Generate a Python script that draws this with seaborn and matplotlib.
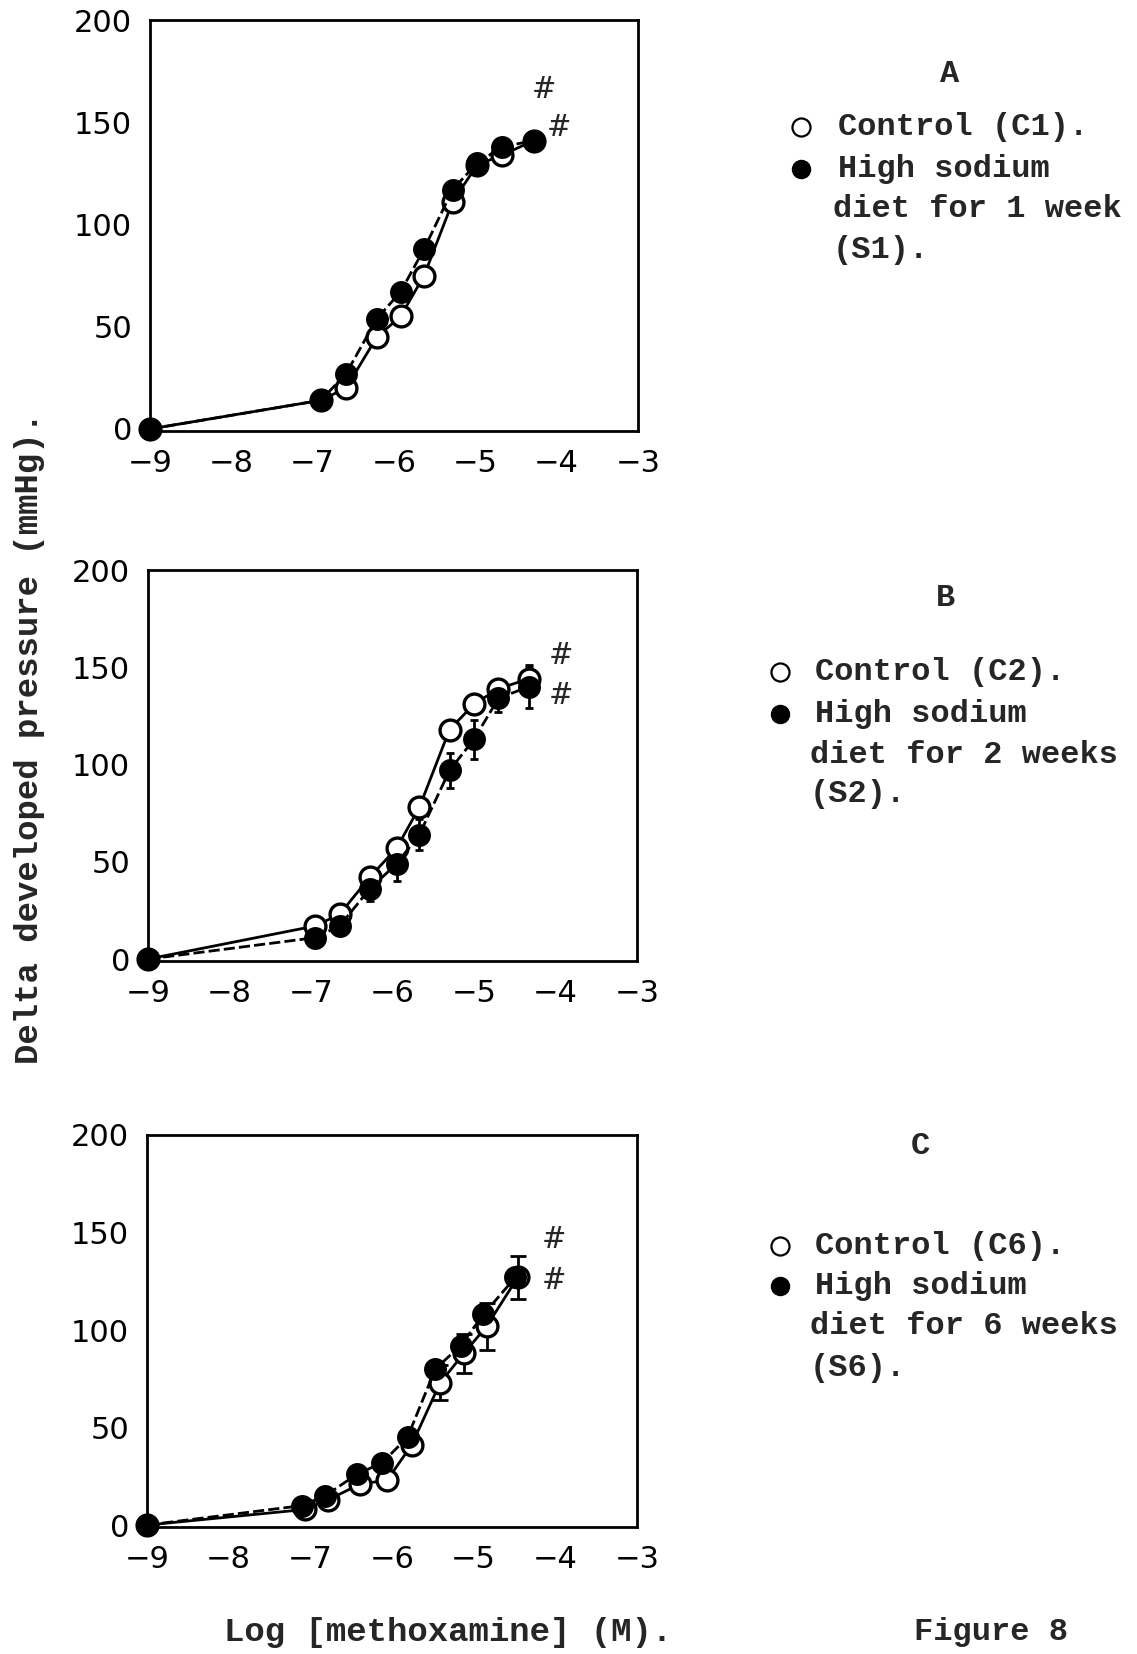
import numpy as np
import pandas as pd
import seaborn as sns
import matplotlib
matplotlib.use("Agg")
import matplotlib.pyplot as plt
from matplotlib.lines import Line2D

# ---------------- data ----------------
# Panel A
xA = [-9, -6.90, -6.59, -6.21, -5.92, -5.63, -5.28, -4.98, -4.67, -4.28]
ctrlA = [0, 14, 20, 45, 55, 75, 111, 129, 134, 141]
naA = [0, 14, 27, 54, 67, 88, 117, 130, 138, 141]
ctrlA_err = [0, 0, 0, 0, 0, 0, 0, 0, 0, 0]
naA_err = [0, 0, 0, 0, 0, 0, 0, 0, 0, 0]

# Panel B
xB = [-9, -6.95, -6.65, -6.28, -5.95, -5.67, -5.30, -5.00, -4.70, -4.33]
ctrlB = [0, 17, 23, 42, 57, 78, 118, 131, 139, 144]
naB = [0, 11, 17, 36, 49, 64, 97, 113, 134, 140]
ctrlB_err = [0, 0, 0, 3, 5, 0, 0, 0, 3, 6]
naB_err = [0, 0, 0, 6, 9, 8, 9, 10, 7, 11]

# Panel C
xC_ctrl = [-9, -7.06, -6.78, -6.39, -6.06, -5.76, -5.41, -5.12, -4.84, -4.46]
ctrlC = [0, 8, 13, 21, 23, 41, 73, 88, 102, 127]
ctrlC_err = [0, 0, 0, 0, 0, 0, 9, 10, 12, 11]
xC_na = [-9, -7.10, -6.82, -6.43, -6.12, -5.81, -5.47, -5.16, -4.88, -4.49]
naC = [0, 10, 15, 26, 32, 45, 80, 92, 108, 127]
naC_err = [0, 0, 0, 0, 0, 0, 0, 0, 0, 0]

xticks = [-9, -8, -7, -6, -5, -4, -3]
yticks = [0, 50, 100, 150, 200]

panel_letters = ["A", "B", "C"]
legend_ctrl = ["Control (C1).", "Control (C2).", "Control (C6)."]
legend_na = [["High sodium", "diet for 1 week", "(S1)."],
             ["High sodium", "diet for 2 weeks", "(S2)."],
             ["High sodium", "diet for 6 weeks", "(S6)."]]
hash_pos = [[(-4.16, 166), (-3.97, 147)],
            [(-3.93, 156), (-3.93, 135)],
            [(-4.02, 146), (-4.02, 125)]]

# ---------------- figure ----------------
sns.set_style("white")
plt.rcParams['font.family'] = ['DejaVu Sans']
W, H = 1137, 1654
fig = plt.figure(figsize=(W / 100, H / 100), dpi=100)


def fx(x):
    return x / W


def fy(y):
    return 1 - y / H


axes_px = [(150, 20, 638, 431), (148, 570, 637, 961), (147, 1135, 637, 1527)]
panels = [
    (xA, ctrlA, ctrlA_err, xA, naA, naA_err),
    (xB, ctrlB, ctrlB_err, xB, naB, naB_err),
    (xC_ctrl, ctrlC, ctrlC_err, xC_na, naC, naC_err),
]
caps = [3, 3, 6]
mono = dict(family="Liberation Mono", weight="bold")

for i, ((l, t, r, b), (xc, yc, ec, xn, yn, en)) in enumerate(zip(axes_px, panels)):
    ax = fig.add_axes([fx(l), fy(b), (r - l) / W, (b - t) / H])
    xc_a, yc_a, ec_a = map(np.asarray, (xc, yc, ec))
    xn_a, yn_a, en_a = map(np.asarray, (xn, yn, en))
    mc = ec_a > 0
    mn = en_a > 0
    if mc.any():
        ax.errorbar(xc_a[mc], yc_a[mc], yerr=ec_a[mc], fmt="none", ecolor="black",
                    elinewidth=2.0, capsize=caps[i], capthick=2.0, zorder=2)
    if mn.any():
        ax.errorbar(xn_a[mn], yn_a[mn], yerr=en_a[mn], fmt="none", ecolor="black",
                    elinewidth=2.0, capsize=caps[i], capthick=2.0, zorder=2)
    dfc = pd.DataFrame({"x": xc, "y": yc})
    dfn = pd.DataFrame({"x": xn, "y": yn})
    sns.lineplot(data=dfc, x="x", y="y", ax=ax, color="black", linewidth=2.0,
                 marker="o", markersize=15, markerfacecolor="white",
                 markeredgecolor="black", markeredgewidth=2.4, zorder=3,
                 clip_on=False)
    sns.lineplot(data=dfn, x="x", y="y", ax=ax, color="black", linewidth=2.0,
                 linestyle=(0, (4, 1.5)),
                 marker="o", markersize=15, markerfacecolor="black",
                 markeredgecolor="black", markeredgewidth=1.5, zorder=4,
                 clip_on=False)
    ax.set_xlim(-9, -3)
    ax.set_ylim(-1, 200)
    ax.set_xticks(xticks)
    ax.set_yticks(yticks)
    ax.set_xticklabels([f"\u2212{abs(v)}" for v in xticks])
    ax.set_yticklabels([str(v) for v in yticks])
    ax.tick_params(direction="in", length=7, width=1.8, labelsize=22,
                   pad=13, colors="black")
    ax.set_xlabel("")
    ax.set_ylabel("")
    for s in ax.spines.values():
        s.set_linewidth(2.0)
        s.set_color("black")
        s.set_visible(True)
    for (hx, hy) in hash_pos[i]:
        ax.text(hx, hy, "#", fontsize=21, style="italic", ha="center", va="center",
                family="DejaVu Serif")

# panel labels & legends (figure pixel positions)
letter_pos = [(950, 74), (946, 598), (920, 1146)]
leg_marker_x = [801, 780, 780]
leg_text_x = [838, 815, 815]
leg_lines_y = [[127, 169, 209, 250], [672, 714, 755, 794], [1246, 1286, 1326, 1368]]
FS = 23
for i in range(3):
    lx, ly = letter_pos[i]
    fig.text(fx(lx), fy(ly), panel_letters[i], ha="center", va="center",
             fontsize=FS, **mono)
    ys = leg_lines_y[i]
    mx = leg_marker_x[i]
    fig.add_artist(Line2D([fx(mx)], [fy(ys[0])], marker="o", markersize=13,
                          markerfacecolor="white", markeredgecolor="black",
                          markeredgewidth=1.6, transform=fig.transFigure))
    fig.add_artist(Line2D([fx(mx)], [fy(ys[1])], marker="o", markersize=13,
                          markerfacecolor="black", markeredgecolor="black",
                          transform=fig.transFigure))
    tx = leg_text_x[i]
    fig.text(fx(tx), fy(ys[0]), legend_ctrl[i], ha="left", va="center", fontsize=FS, **mono)
    fig.text(fx(tx), fy(ys[1]), legend_na[i][0], ha="left", va="center", fontsize=FS, **mono)
    fig.text(fx(tx - 5), fy(ys[2]), legend_na[i][1], ha="left", va="center", fontsize=FS, **mono)
    fig.text(fx(tx - 5), fy(ys[3]), legend_na[i][2], ha="left", va="center", fontsize=FS, **mono)

fig.text(fx(30), fy(738), "Delta developed pressure (mmHg).", rotation=90,
         ha="center", va="center", fontsize=24.5, **mono)
fig.text(fx(448), fy(1632), "Log [methoxamine] (M).", ha="center", va="center",
         fontsize=24.5, **mono)
fig.text(fx(991), fy(1632), "Figure 8", ha="center", va="center", fontsize=FS, **mono)

fig.savefig("out.png", dpi=100, facecolor="white")
